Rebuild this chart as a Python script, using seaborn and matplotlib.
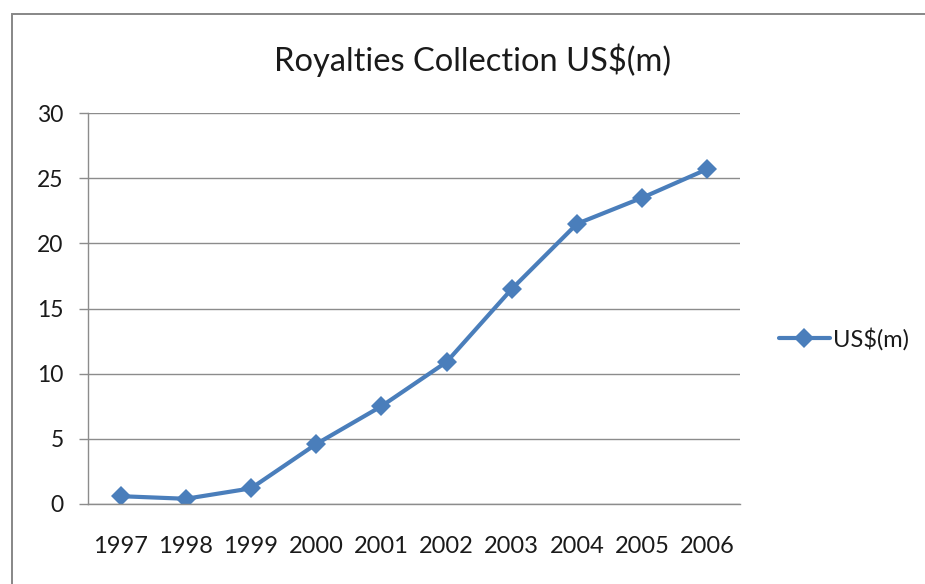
import matplotlib
matplotlib.use("Agg")
import matplotlib.pyplot as plt
import seaborn as sns
import pandas as pd
from matplotlib.patches import Rectangle
from matplotlib.ticker import MultipleLocator, FixedLocator

years = [1997, 1998, 1999, 2000, 2001, 2002, 2003, 2004, 2005, 2006]
royalties = [0.6, 0.4, 1.2, 4.6, 7.5, 10.9, 16.5, 21.5, 23.5, 25.7]
series_name = "US$(m)"
chart_title = "Royalties Collection US$(m)"

df = pd.DataFrame({"year": years, "value": royalties})

sns.set_theme(style="white")
plt.rcParams["font.family"] = ["Lato", "DejaVu Sans"]

W, H, DPI = 925, 584, 100
fig = plt.figure(figsize=(W / DPI, H / DPI), dpi=DPI)
fig.patch.set_facecolor("white")

# outer chart frame
fig.patches.append(Rectangle((12 / W, -0.01), 1.2, (H - 14) / H + 0.01,
                             transform=fig.transFigure, fill=False,
                             edgecolor="#878787", linewidth=1.4))

left, right, top, bottom = 88, 740, 113, 504
ax = fig.add_axes([left / W, 1 - bottom / H, (right - left) / W, (bottom - top) / H])

blue = "#4A7EBB"
sns.lineplot(data=df, x="year", y="value", ax=ax, color=blue, linewidth=3.0,
             marker="D", markersize=10.5, markeredgewidth=0, label=series_name)

ax.set_xlim(years[0] - 0.5, years[-1] + 0.5)
ax.set_ylim(0, 30)
ax.yaxis.set_major_locator(MultipleLocator(5))
ax.xaxis.set_major_locator(FixedLocator(years))
ax.xaxis.set_minor_locator(FixedLocator([y - 0.5 for y in years] + [years[-1] + 0.5]))
ax.set_xticklabels([str(y) for y in years])

ax.grid(axis="y", color="#8c8c8c", linewidth=1.0)
ax.set_axisbelow(True)
for s in ["top", "right"]:
    ax.spines[s].set_visible(False)
for s in ["left", "bottom"]:
    ax.spines[s].set_color("#8c8c8c")
    ax.spines[s].set_linewidth(1.0)

ax.tick_params(axis="x", which="major", length=0, pad=23, labelsize=17, colors="#1a1a1a")
ax.tick_params(axis="x", which="minor", length=6.5, width=1.0, color="#8c8c8c", direction="out")
ax.tick_params(axis="y", which="major", length=6.5, width=1.0, color="#8c8c8c", pad=11,
               labelsize=16.5, labelcolor="#1a1a1a", left=True)
ax.set_xlabel("")
ax.set_ylabel("")

fig.text((273 + 673) / 2 / W, 1 - 60 / H, chart_title, ha="center", va="center",
         fontsize=23.5, color="#1a1a1a")

leg = ax.legend(loc="center left", bbox_to_anchor=(779 / W, 1 - 339 / H),
                bbox_transform=fig.transFigure, frameon=False, fontsize=17,
                handlelength=2.15, handletextpad=0.15, borderpad=0, borderaxespad=0)
for t in leg.get_texts():
    t.set_color("#1a1a1a")

fig.savefig("out.png", dpi=DPI)
